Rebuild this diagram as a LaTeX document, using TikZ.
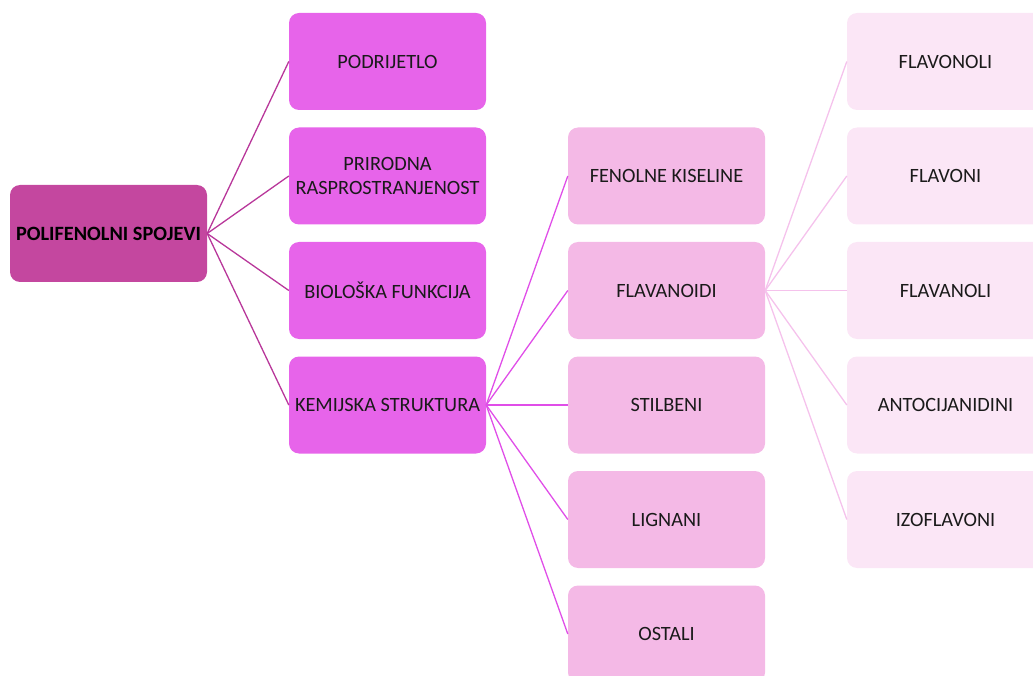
\documentclass[tikz,border=0pt]{standalone}
\usepackage{fontspec}
\setmainfont{Carlito}
\definecolor{rootc}{HTML}{C4479F}
\definecolor{lonec}{HTML}{E764EA}
\definecolor{ltwoc}{HTML}{F4B9E6}
\definecolor{lthreec}{HTML}{FBE6F6}
\definecolor{lineA}{HTML}{B8379A}
\definecolor{lineB}{HTML}{E04EE8}
\definecolor{lineC}{HTML}{F5C2EC}
\definecolor{txt}{HTML}{1A1A1A}
\begin{document}
\begin{tikzpicture}[x=1pt,y=-1pt,
  box/.style={rounded corners=10pt, minimum width=197pt, minimum height=97pt, inner sep=2pt, align=center, text=txt, font=\fontsize{20.3}{24}\selectfont},
  rootbox/.style={box, fill=rootc, font=\fontsize{20.3}{24}\selectfont\bfseries, text=black},
  onebox/.style={box, fill=lonec},
  twobox/.style={box, fill=ltwoc},
  threebox/.style={box, fill=lthreec},
  conA/.style={draw=lineA, line width=1.3pt},
  conB/.style={draw=lineB, line width=1.3pt},
  conC/.style={draw=lineC, line width=1.3pt}]
\useasboundingbox (0,0) rectangle (1033,676);
\clip (0,0) rectangle (1033,676);
\node[rootbox] (root) at (108.5,233.5) {POLIFENOLNI SPOJEVI};
\node[onebox] (a1) at (387.5,61.5) {PODRIJETLO};
\node[onebox] (a2) at (387.5,176) {PRIRODNA\\RASPROSTRANJENOST};
\node[onebox] (a3) at (387.5,290.5) {BIOLOŠKA FUNKCIJA};
\node[onebox] (a4) at (387.5,405) {KEMIJSKA STRUKTURA};
\node[twobox] (b1) at (666.5,176) {FENOLNE KISELINE};
\node[twobox] (b2) at (666.5,290.5) {FLAVANOIDI};
\node[twobox] (b3) at (666.5,405) {STILBENI};
\node[twobox] (b4) at (666.5,519.5) {LIGNANI};
\node[twobox] (b5) at (666.5,634) {OSTALI};
\node[threebox] (c1) at (945.5,61.5) {FLAVONOLI};
\node[threebox] (c2) at (945.5,176) {FLAVONI};
\node[threebox] (c3) at (945.5,290.5) {FLAVANOLI};
\node[threebox] (c4) at (945.5,405) {ANTOCIJANIDINI};
\node[threebox] (c5) at (945.5,519.5) {IZOFLAVONI};
\foreach \n in {a1,a2,a3,a4} \draw[conA] (root.east) -- (\n.west);
\foreach \n in {b1,b2,b3,b4,b5} \draw[conB] (a4.east) -- (\n.west);
\foreach \n in {c1,c2,c3,c4,c5} \draw[conC] (b2.east) -- (\n.west);
\end{tikzpicture}
\end{document}
